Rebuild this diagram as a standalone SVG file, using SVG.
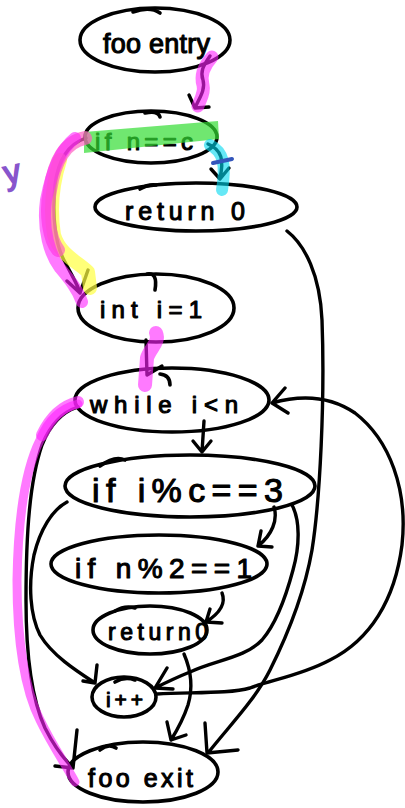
<svg xmlns="http://www.w3.org/2000/svg" width="405" height="808" viewBox="0 0 405 808">
  <style>
    .node { fill: none; stroke: #000; stroke-width: 3.6; stroke-linecap: round; stroke-linejoin: round; }
    .lbl { font-family: "Liberation Sans", "DejaVu Sans", sans-serif; fill: #000; stroke: #000; stroke-width: 1.1; stroke-linejoin: round; }
    .edge { fill: none; stroke: #000; stroke-width: 3.4; stroke-linecap: round; stroke-linejoin: round; }
    .hl { fill: none; stroke-linecap: round; stroke-linejoin: round; }
    .mag { stroke: #ff22ff; opacity: 0.6; }
  </style>
  <rect width="405" height="808" fill="#fff"/>

  <!-- control-flow nodes -->
  <g id="foo-entry">
    <ellipse class="node" cx="155" cy="40" rx="75" ry="32"/>
    <path class="node" d="M133,12 Q150,6 160,13"/>
    <text class="lbl" x="103" y="53" font-size="27" textLength="107" lengthAdjust="spacing">foo entry</text>
  </g>
  <g id="if-n-eq-c">
    <ellipse class="node" cx="151" cy="137" rx="66" ry="26"/>
    <path class="node" d="M145,113 Q158,110 160,117"/>
    <text class="lbl" x="95" y="150" font-size="24" textLength="98" lengthAdjust="spacing">if n==c</text>
  </g>
  <g id="return-0">
    <ellipse class="node" cx="196" cy="207" rx="101" ry="24"/>
    <path class="node" d="M140,189 Q148,184 156,185"/>
    <text class="lbl" x="125" y="220" font-size="25" textLength="120" lengthAdjust="spacing">return 0</text>
  </g>
  <g id="int-i-1">
    <ellipse class="node" cx="156" cy="308" rx="78" ry="34"/>
    <path class="node" d="M147,274 Q158,272 155,290"/>
    <text class="lbl" x="100" y="318" font-size="24" textLength="102" lengthAdjust="spacing">int i=1</text>
  </g>
  <g id="while-i-lt-n">
    <ellipse class="node" cx="172" cy="400" rx="97" ry="32"/>
    <path class="node" d="M160,374 Q170,375 170,385"/>
    <text class="lbl" x="90" y="413" font-size="24" textLength="148" lengthAdjust="spacing">while i&lt;n</text>
  </g>
  <g id="if-i-mod-c">
    <ellipse class="node" cx="190" cy="486" rx="125" ry="31"/>
    <path class="node" d="M100,466 Q115,455 125,460"/>
    <text class="lbl" x="92" y="502" font-size="34" textLength="191" lengthAdjust="spacing">if i%c==3</text>
  </g>
  <g id="if-n-mod-2">
    <ellipse class="node" cx="159" cy="564" rx="108" ry="29"/>
    <text class="lbl" x="75" y="578" font-size="28" textLength="177" lengthAdjust="spacing">if n%2==1</text>
  </g>
  <g id="return-0-inner">
    <ellipse class="node" cx="150" cy="630" rx="57" ry="24"/>
    <path class="node" d="M115,611 Q125,605 135,608"/>
    <text class="lbl" x="108" y="640" font-size="23" textLength="100" lengthAdjust="spacing">return0</text>
  </g>
  <g id="i-incr">
    <ellipse class="node" cx="124" cy="697" rx="32" ry="20"/>
    <path class="node" d="M115,682 Q125,676 135,680"/>
    <text class="lbl" x="106" y="707" font-size="21" textLength="37" lengthAdjust="spacing">i++</text>
  </g>
  <g id="foo-exit">
    <ellipse class="node" cx="143" cy="772" rx="75" ry="30"/>
    <path class="node" d="M100,750 Q108,743 116,748"/>
    <text class="lbl" x="88" y="787" font-size="25" textLength="105" lengthAdjust="spacing">foo exit</text>
  </g>

  <!-- connectors, each with its hand-drawn arrowhead -->
  <g id="connectors">
    <path class="edge" d="M210,56 C203,66 200,72 203,80 C206,90 198,100 195,108 M189,95 L195,108 L209,107"/>
    <path class="edge" d="M208,144 C222,150 224,160 220,178 M211,169 L220,179 L229,168"/>
    <path class="edge" d="M86,138 C68,144 58,160 55,185 C52,215 55,245 65,262 C72,276 78,285 80,293 M67,281 L80,293 L88,270"/>
    <path class="edge" d="M146,340 L147,375 L162,366"/>
    <path class="edge" d="M204,421 L202,452 M193,441 L202,452 L211,441"/>
    <path class="edge" d="M78,407 C62,412 50,425 42,445 C30,480 26,530 26,600 C26,660 32,700 45,728 C55,748 65,760 73,768 M77,730 L73,768 M55,766 L73,768"/>
    <path class="edge" d="M274,507 C278,520 272,535 258,546 M261,531 L258,546 L272,547"/>
    <path class="edge" d="M67,502 C52,510 40,530 34,555 C28,585 30,615 40,635 C52,655 75,670 95,683 M97,665 L95,683 L83,681"/>
    <path class="edge" d="M292,505 C300,520 300,545 293,570 C285,600 275,625 262,640 C245,658 215,660 190,672 C175,678 165,683 155,688 M167,668 L155,688 L173,689"/>
    <path class="edge" d="M287,231 C305,245 320,275 322,320 C325,400 320,500 312,550 C305,590 290,630 270,670 C255,700 230,725 208,753 M205,723 L207,753 L238,750"/>
    <path class="edge" d="M222,593 C226,603 220,613 206,622 M210,609 L206,622 L222,623"/>
    <path class="edge" d="M184,654 C190,668 194,685 188,705 C183,720 176,732 171,740 M167,722 L171,740 L186,735"/>
    <path class="edge" d="M157,694 C190,692 230,694 250,688 C270,680 300,676 330,660 C370,640 395,600 402,545 C408,490 390,440 355,413 C330,396 300,395 272,403 M285,388 L272,403 L288,413"/>
  </g>

  <!-- highlighter marks over the traced path -->
  <g id="highlights">
    <polygon points="84,132 218,121 219,139 84,153" fill="#33dd33" opacity="0.7"/>
    <path class="hl" d="M210,145 C224,152 226,165 222,190" stroke="#00d8f0" stroke-width="12" opacity="0.6"/>
    <path class="hl" d="M213,163 L232,159" stroke="#3355bb" stroke-width="4"/>
    <path class="hl mag" d="M212,57 C204,66 200,75 203,85 C205,93 200,100 198,106" stroke-width="13"/>
    <path class="hl" d="M60,160 C52,185 50,210 54,235 C60,255 78,262 88,272 L90,288" stroke="#ffff40" stroke-width="14" opacity="0.7"/>
    <path class="hl" d="M85,138 C65,142 55,160 50,190 C45,215 50,240 58,250" stroke="#ff60c0" stroke-width="14" opacity="0.7"/>
    <path class="hl mag" d="M75,138 C60,150 52,170 46,200 C42,230 50,255 60,268 C70,280 78,290 82,302" stroke-width="12"/>
    <path class="hl mag" d="M156,333 C160,342 150,348 147,358 L145,385" stroke-width="14"/>
    <path class="hl mag" d="M78,402 C62,406 50,418 42,435" stroke-width="12"/>
    <path class="hl mag" d="M78,404 C62,408 48,420 40,440 C25,470 18,520 17,580 C17,640 25,690 40,720 C52,745 66,765 75,782" stroke-width="9"/>
    <text x="4" y="183" font-family="Liberation Sans, sans-serif" font-size="34" fill="#8855cc" stroke="#8855cc" stroke-width="1.5" transform="rotate(-12 14 175)">y</text>
  </g>
</svg>
